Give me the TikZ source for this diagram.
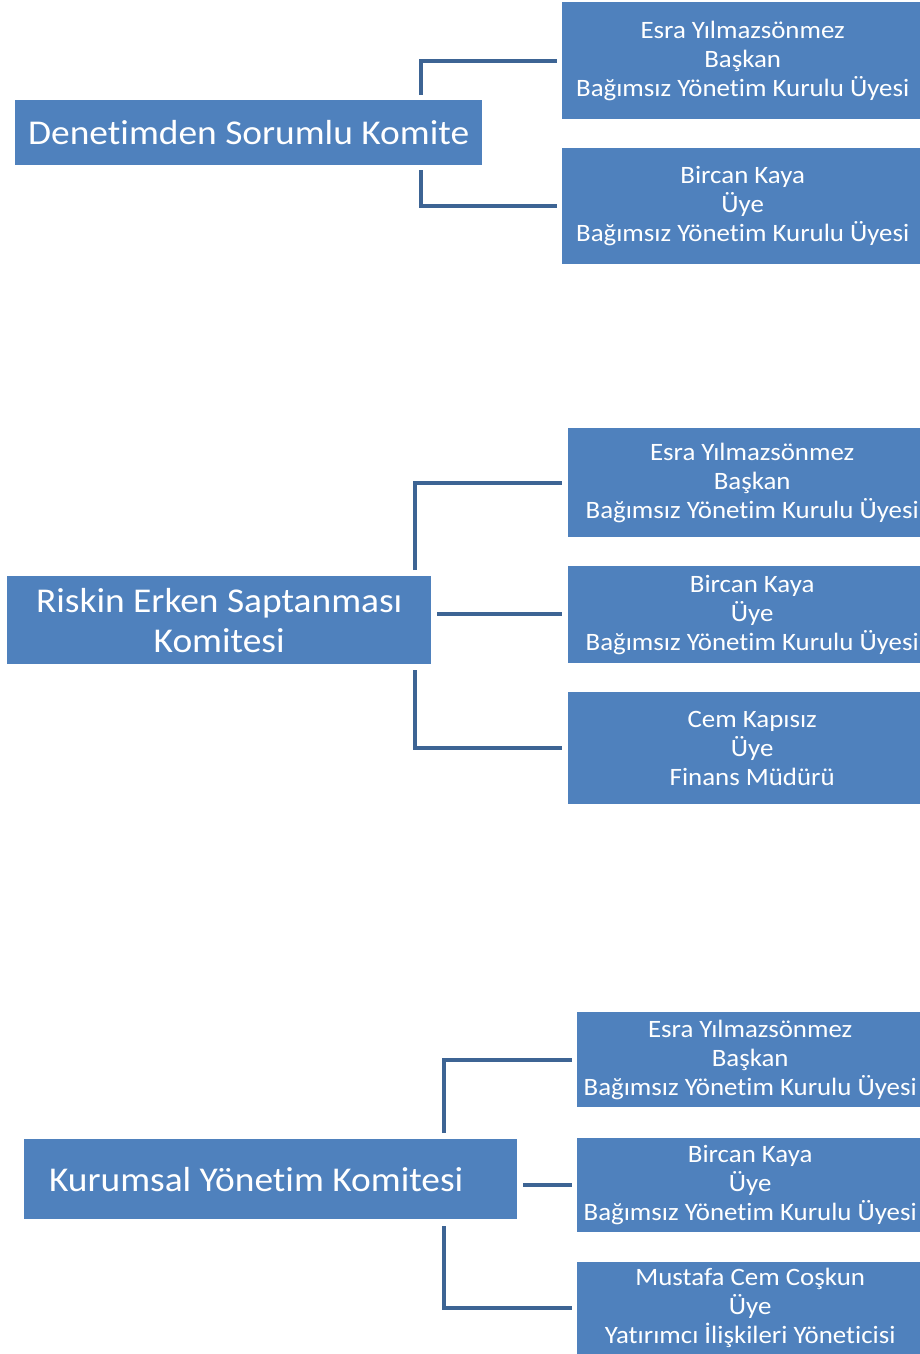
\documentclass[tikz,border=0pt]{standalone}
\usepackage{fontspec}
\setmainfont{Carlito}[FakeStretch=1.075, Ligatures=NoCommon]
\definecolor{boxblue}{RGB}{79,129,189}
\definecolor{linkblue}{RGB}{61,100,148}
\tikzset{
  box/.style={fill=boxblue, draw=none, text=white, align=center, inner sep=0pt, anchor=north west},
  member/.style={box, font=\fontsize{25}{29}\selectfont},
  head/.style={box, font=\fontsize{34.8}{40}\selectfont},
  conn/.style={draw=linkblue, line width=4pt},
}
\begin{document}
\begin{tikzpicture}[x=1pt,y=-1pt]
\useasboundingbox (0,0) rectangle (920,1354);
\clip (0,0) rectangle (920,1354);
% Section 1
\node[head, minimum width=467pt, minimum height=65pt] (m1) at (15,100) {Denetimden Sorumlu Komite};
\node[member, minimum width=361pt, minimum height=117pt] (a1) at (562,2) {Esra Yılmazsönmez\\Başkan\\Bağımsız Yönetim Kurulu Üyesi};
\node[member, minimum width=361pt, minimum height=116pt] (a2) at (562,148) {Bircan Kaya\\Üye\\Bağımsız Yönetim Kurulu Üyesi};
\coordinate (s1) at (421,95);
\coordinate (s2) at (421,170);
\draw[conn] (s1) |- ([xshift=-5pt]a1.west);
\draw[conn] (s2) |- ([xshift=-5pt]a2.west);
% Section 2
\node[head, minimum width=424pt, minimum height=88pt] (m2) at (7,576) {Riskin Erken Saptanması\\Komitesi};
\node[member, minimum width=368pt, minimum height=109pt] (b1) at (568,428) {Esra Yılmazsönmez\\Başkan\\Bağımsız Yönetim Kurulu Üyesi};
\node[member, minimum width=368pt, minimum height=97pt] (b2) at (568,566) {Bircan Kaya\\Üye\\Bağımsız Yönetim Kurulu Üyesi};
\node[member, minimum width=368pt, minimum height=112pt] (b3) at (568,692) {Cem Kapısız\\Üye\\Finans Müdürü};
\coordinate (t1) at (415,570);
\coordinate (t2) at (437,614);
\coordinate (t3) at (415,670);
\draw[conn] (t1) |- ([xshift=-6pt]b1.west);
\draw[conn] (t2) -- ([xshift=-6pt]b2.west |- t2);
\draw[conn] (t3) |- ([xshift=-6pt]b3.west);
% Section 3
\node[head, minimum width=493pt, minimum height=80pt] (m3) at (24,1139) {Kurumsal Yönetim Komitesi\hspace*{29pt}};
\node[member, minimum width=346pt, minimum height=95pt] (c1) at (577,1012) {Esra Yılmazsönmez\\Başkan\\Bağımsız Yönetim Kurulu Üyesi};
\node[member, minimum width=346pt, minimum height=94pt] (c2) at (577,1138) {Bircan Kaya\\Üye\\Bağımsız Yönetim Kurulu Üyesi};
\node[member, minimum width=346pt, minimum height=92pt] (c3) at (577,1262) {Mustafa Cem Coşkun\\Üye\\Yatırımcı İlişkileri Yöneticisi};
\coordinate (u1) at (444,1133);
\coordinate (u2) at (523,1185);
\coordinate (u3) at (444,1226);
\draw[conn] (u1) |- ([xshift=-5pt]c1.west);
\draw[conn] (u2) -- ([xshift=-5pt]c2.west |- u2);
\draw[conn] (u3) |- ([xshift=-5pt]c3.west);
\end{tikzpicture}
\end{document}
